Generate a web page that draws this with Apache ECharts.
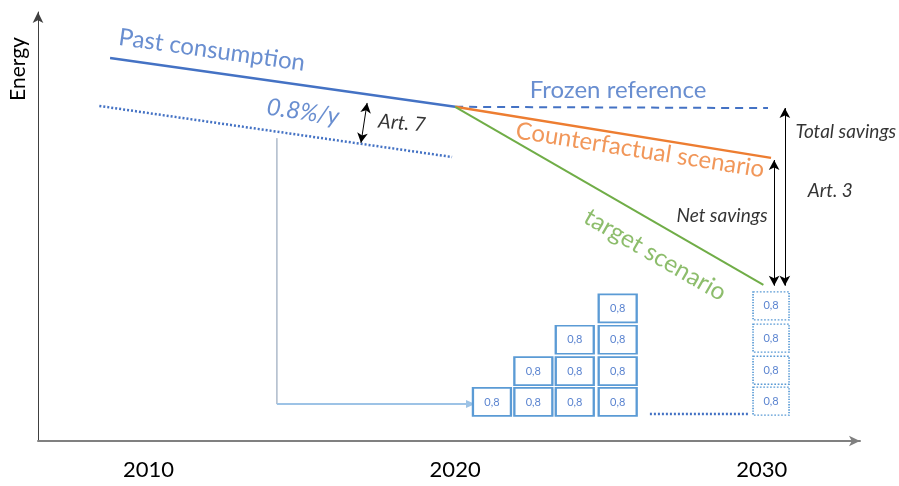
<!DOCTYPE html>
<html>
<head>
<meta charset="utf-8">
<script src="https://cdn.jsdelivr.net/npm/echarts@6/dist/echarts.min.js"></script>
<style>html,body{margin:0;padding:0;background:#fff}#c{width:899px;height:486px}</style>
</head>
<body>
<div id="c"></div>
<script>
// ---- data (x = year, y = energy, arbitrary units) ----
const tickYears = [2010, 2020, 2030];
const pastX = [2008.75, 2020.0];   const pastY = [89.3, 77.9];
const trendX = [2008.4, 2019.9];   const trendY = [78.1, 66.2];
const frozenX = [2020.0, 2030.2];  const frozenY = [77.9, 77.6];
const counterX = [2020.0, 2030.3]; const counterY = [77.9, 66.0];
const targetX = [2020.0, 2030.05]; const targetY = [77.9, 36.4];
// stacked 0,8 boxes
const boxLabel = '0,8';
const boxColX = [2021.2, 2022.55, 2023.9, 2025.3];
const boxColCount = [1, 2, 3, 4];
const boxRowY = [9.1, 16.3, 23.6, 30.9];
const box2030X = 2030.3;
const box2030RowY = [9.3, 16.5, 24.0, 31.5];
// arrows / connectors
const art7Arrow = [[2017.13, 78.8], [2016.93, 69.5]];
const totalArrow = [[2030.75, 77.6], [2030.75, 36.2]];
const netArrow = [[2030.4, 65.5], [2030.4, 36.2]];
const connectorV = [[2014.19, 70.6], [2014.19, 8.6]];
const connectorH = [[2014.19, 8.6], [2020.5, 8.6]];
const dottedLink = [[2026.35, 6.3], [2029.6, 6.3]];
// annotation texts and anchor points
const notes = [
  {text: 'Past consumption', at: [2012.07, 91.1]},
  {text: '0.8%/y', at: [2015.04, 76.7]},
  {text: 'Art. 7', at: [2018.27, 74.1]},
  {text: 'Frozen reference', at: [2025.31, 81.8]},
  {text: 'Counterfactual scenario', at: [2026.03, 67.8]},
  {text: 'target scenario', at: [2026.52, 43.4]},
  {text: 'Total savings', at: [2032.74, 72.0]},
  {text: 'Art. 3', at: [2032.23, 58.3]},
  {text: 'Net savings', at: [2028.7, 52.4]}
];

const BLUE = '#4472C4', ORANGE = '#ED7D31', GREEN = '#70AD47', BOXBLUE = '#5B9BD5';
const F = 'Lato, "Open Sans", sans-serif';
const noteStyles = [
  {color: BLUE, fontSize: 24, rotate: -8},
  {color: BLUE, fontSize: 24, rotate: -8, fontStyle: 'italic'},
  {color: '#000', fontSize: 20, rotate: -5, fontStyle: 'italic'},
  {color: BLUE, fontSize: 24, rotate: 0},
  {color: ORANGE, fontSize: 24, rotate: -9},
  {color: GREEN, fontSize: 24.5, rotate: -30},
  {color: '#000', fontSize: 19, rotate: 0, fontStyle: 'italic'},
  {color: '#000', fontSize: 19, rotate: 0, fontStyle: 'italic'},
  {color: '#000', fontSize: 19, rotate: 0, fontStyle: 'italic'}
];

const zip = (xs, ys) => xs.map((x, i) => [x, ys[i]]);

const boxes = [];
boxColX.forEach((x, c) => { for (let r = 0; r < boxColCount[c]; r++) boxes.push([x, boxRowY[r]]); });
const boxes2030 = box2030RowY.map(y => [box2030X, y]);

function lineSeries(data, color, width, type, z) {
  return {type: 'line', data, showSymbol: false, symbol: 'none', silent: true, z: z || 3,
    lineStyle: {color, width, type: type || 'solid'}, animation: false};
}
function arrowLine(pair, color, width, syms, size) {
  return {
    type: 'line', data: [], silent: true, animation: false,
    markLine: {
      silent: true, animation: false, symbol: syms, symbolSize: size || [8, 10],
      label: {show: false},
      lineStyle: {color, width, type: 'solid'},
      data: [[{coord: pair[0]}, {coord: pair[1]}]]
    }
  };
}

const chart = echarts.init(document.getElementById('c'), null, {renderer: 'canvas'});
chart.setOption({
  animation: false,
  backgroundColor: '#fff',
  grid: {left: 38, right: 39, top: 12, bottom: 45},
  xAxis: {
    type: 'value', min: 2006.4, max: 2033.2,
    splitLine: {show: false}, axisTick: {show: false},
    axisLine: {show: true, lineStyle: {color: '#808080', width: 2}, symbol: ['none', 'arrow'], symbolSize: [8, 11]},
    axisLabel: {customValues: tickYears, margin: 18, fontSize: 22, color: '#000', fontFamily: F,
      formatter: v => String(v)}
  },
  yAxis: {
    type: 'value', min: 0, max: 100,
    splitLine: {show: false}, axisTick: {show: false}, axisLabel: {show: false},
    axisLine: {show: true, onZero: false, lineStyle: {color: '#404040', width: 1}, symbol: ['none', 'arrow'], symbolSize: [8, 11]}
  },
  graphic: [{
    type: 'text', x: 18, y: 69, rotation: Math.PI / 2,
    style: {text: 'Energy', fontSize: 21, fontFamily: F, fill: '#000', textAlign: 'center', textVerticalAlign: 'middle'}
  }],
  series: [
    lineSeries(zip(pastX, pastY), BLUE, 2.5, 'solid', 4),
    lineSeries(zip(trendX, trendY), BLUE, 2.5, [2, 2]),
    lineSeries(zip(frozenX, frozenY), BLUE, 2, [8, 6]),
    lineSeries(zip(counterX, counterY), ORANGE, 2.5, 'solid', 4),
    lineSeries(zip(targetX, targetY), GREEN, 2, 'solid', 4),
    lineSeries(connectorV, '#8497B0', 1),
    arrowLine(connectorH, '#9DC3E6', 2, ['none', 'triangle'], [8, 9]),
    lineSeries(dottedLink, BLUE, 2.5, [2, 2]),
    arrowLine(art7Arrow, '#000', 1, ['arrow', 'arrow'], [8, 10]),
    arrowLine(totalArrow, '#000', 1, ['arrow', 'arrow'], [8, 10]),
    arrowLine(netArrow, '#000', 1, ['arrow', 'arrow'], [8, 10]),
    {
      type: 'scatter', data: boxes, symbol: 'rect', symbolSize: [38, 28], silent: true, z: 5,
      itemStyle: {color: '#fff', borderColor: BOXBLUE, borderWidth: 2, opacity: 1},
      label: {show: true, position: 'inside', formatter: () => boxLabel, color: '#5B84D0', fontSize: 11, fontFamily: F}
    },
    {
      type: 'scatter', data: boxes2030, symbol: 'rect', symbolSize: [36, 28], silent: true, z: 5,
      itemStyle: {color: '#fff', borderColor: BOXBLUE, borderWidth: 1.5, borderType: 'dotted', opacity: 1},
      label: {show: true, position: 'inside', formatter: () => boxLabel, color: '#5B84D0', fontSize: 11, fontFamily: F}
    },
    {
      type: 'scatter', symbolSize: 0, silent: true, z: 6, clip: false,
      data: notes.map((n, i) => ({
        value: n.at,
        label: Object.assign({show: true, position: 'inside', formatter: n.text, fontFamily: F}, noteStyles[i])
      }))
    }
  ]
});
</script>
</body>
</html>
